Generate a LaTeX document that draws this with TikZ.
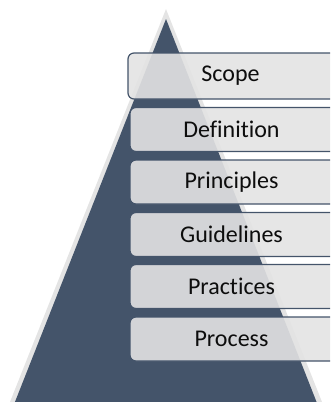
\documentclass[tikz,border=0pt]{standalone}
\usepackage{fontspec}
\setmainfont[Ligatures=NoCommon]{Carlito}
\definecolor{pyrdark}{HTML}{44546A}
\definecolor{pyrlight}{HTML}{E4E4E4}
\definecolor{boxfill}{HTML}{E3E3E3}
\definecolor{txt}{HTML}{0D0D0D}
\newcommand{\boxlabel}[1]{\hspace*{-7pt}#1}
\tikzset{
  layerbox/.style={draw=pyrdark, line width=1.2pt, rounded corners=6pt,
    fill=boxfill, fill opacity=0.9, text opacity=1, text=txt,
    minimum width=210pt, minimum height=44pt, inner sep=0pt,
    font=\fontsize{24}{28}\selectfont},
}
\begin{document}
\begin{tikzpicture}[x=1pt,y=-1pt]
\useasboundingbox (0,0) rectangle (330,402);
\begin{scope}
\clip (0,0) rectangle (330,402);
\fill[pyrlight] (166,9) -- (6,412) -- (326,412) -- cycle;
\fill[pyrdark] (166,19) -- (11,412) -- (320.5,412) -- cycle;
\node[layerbox, minimum width=212pt, minimum height=46pt] (scope) at (234,76) {\boxlabel{Scope}};
\node[layerbox] (definition) at (235,129.5) {\boxlabel{Definition}};
\node[layerbox] (principles) at (235,182) {\boxlabel{Principles}};
\node[layerbox] (guidelines) at (235,234.5) {\boxlabel{Guidelines}};
\node[layerbox] (practices) at (235,286.5) {\boxlabel{Practices}};
\node[layerbox] (process) at (235,339) {\boxlabel{Process}};
\end{scope}
\end{tikzpicture}
\end{document}
